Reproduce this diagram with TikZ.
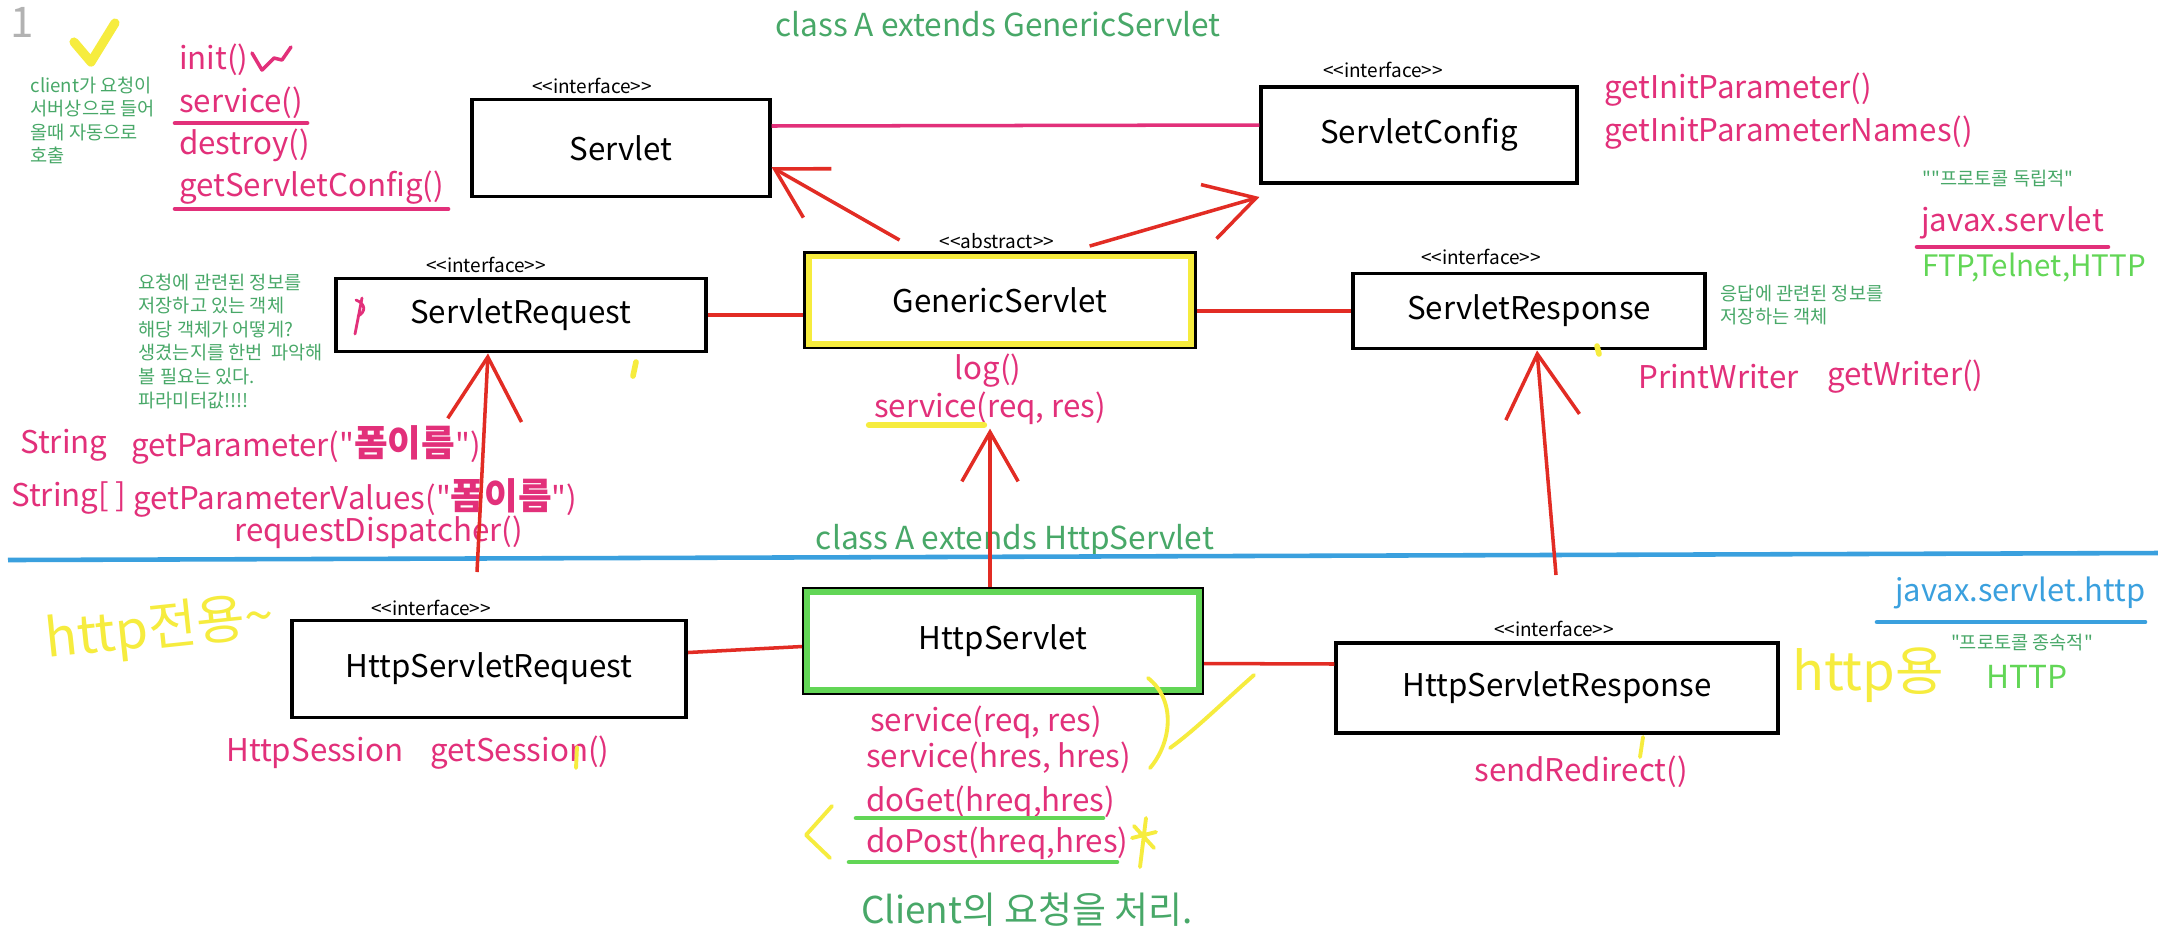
\documentclass[tikz,border=0pt]{standalone}
\usepackage{fontspec}
\setmainfont{Noto Sans CJK KR}
\usepackage{xcolor}
\usepackage{tikz}
\usetikzlibrary{arrows.meta,positioning,calc}

\definecolor{mpink}{RGB}{226,48,122}
\definecolor{ngreen}{RGB}{72,168,104}
\definecolor{bgreen}{RGB}{98,214,86}
\definecolor{lblue}{RGB}{58,160,222}
\definecolor{lred}{RGB}{226,44,36}
\definecolor{ylw}{RGB}{246,236,62}

\begin{document}
\begin{tikzpicture}[
  x=0.01cm, y=-0.01cm,
  cls/.style   ={draw,line width=1.1pt,fill=white,inner sep=0pt,
                 font=\fontsize{8.9}{10}\selectfont},
  stereo/.style={font=\fontsize{5.4}{6.5}\selectfont,inner sep=1pt},
  meth/.style  ={text=mpink,font=\fontsize{8.9}{10}\selectfont,inner sep=1pt},
  note/.style  ={text=ngreen,font=\fontsize{5.3}{6.7}\selectfont,align=left,inner sep=0pt},
  head/.style  ={text=ngreen,font=\fontsize{9}{11}\selectfont,inner sep=1pt},
  hand/.style  ={text=ylw,font=\fontsize{15}{16}\selectfont,inner sep=0pt},
  rel/.style   ={draw=lred,line width=1pt},
  uline/.style ={line width=1.3pt,line cap=round},
  scrib/.style ={draw=ylw,line width=1.1pt,line cap=round,line join=round},
  >={Straight Barb[length=14pt,width=16pt]}]

\useasboundingbox (0,0) rectangle (2158,944);
\fill[white] (0,0) rectangle (2158,944);

% ---------- top left : Servlet methods ----------
\node[text=gray!60,font=\fontsize{12}{13}\selectfont] (pg) at (22,22) {1};
\draw[scrib,line width=2.6pt] (74,42) -- (91,62) -- (115,23);
\node[note,anchor=north west] (cnote) at (30,76) {client가 요청이\\서버상으로 들어\\올때 자동으로\\호출};

\node[meth,anchor=west] (init) at (175,60)  {init()};
\node[meth,anchor=west] (svc)  at (175,103) {service()};
\node[meth,anchor=west] (dst)  at (175,145) {destroy()};
\node[meth,anchor=west] (gsc)  at (175,188) {getServletConfig()};
\draw[mpink,line width=1pt,line cap=round,line join=round]
  (252,53) -- (262,70) -- (274,58) -- (282,60) -- (291,47);
\draw[mpink,uline] (svc.south west) -- (svc.south east);
\draw[mpink,uline] (gsc.south west) -- (gsc.south east);

% ---------- Row 1 : Servlet / ServletConfig ----------
\node[head] (hd1) at (998,24) {class A extends GenericServlet};

\node[cls,minimum width=2.97cm,minimum height=0.97cm] (srv) at (621,148) {Servlet};
\node[stereo] (srvst) at (592,86) {{<}{<}interface{>}{>}};
\node[cls,minimum width=3.15cm,minimum height=0.96cm] (cfg) at (1419,135) {ServletConfig};
\node[stereo] (cfgst) at (1383,70) {{<}{<}interface{>}{>}};
\draw[mpink,line width=1pt] ([yshift=0.22cm]srv.east) -- ([yshift=0.1cm]cfg.west);

\node[meth,anchor=west] (gip)  at (1600,90)  {getInitParameter()};
\node[meth,anchor=west] (gipn) at (1600,133) {getInitParameterNames()};

\node[note] (indep) at (1998,179) {\textquotedbl\textquotedbl 프로토콜 독립적\textquotedbl};
\node[meth,anchor=west] (jxs) at (1917,223) {javax.servlet};
\draw[mpink,uline] ([yshift=-1pt]jxs.south west) -- ([yshift=-1pt]jxs.south east);
\node[text=bgreen,font=\fontsize{8.4}{10}\selectfont,anchor=west] (proto) at (1910,268) {FTP,Telnet,HTTP};

% ---------- Row 2 : GenericServlet ----------
\node[cls,minimum width=3.89cm,minimum height=0.94cm] (gen) at (1000,300) {GenericServlet};
\draw[ylw,line width=1.6pt] ([shift={(1.5pt,-1.5pt)}]gen.north west) rectangle ([shift={(-1.5pt,1.5pt)}]gen.south east);
\node[stereo] (genst) at (997,241) {{<}{<}abstract{>}{>}};

\node[cls,minimum width=3.69cm,minimum height=0.73cm] (req) at (521,315) {ServletRequest};
\node[stereo] (reqst) at (486,265) {{<}{<}interface{>}{>}};
\node[cls,minimum width=3.52cm,minimum height=0.75cm] (res) at (1529,311) {ServletResponse};
\node[stereo] (resst) at (1481,257) {{<}{<}interface{>}{>}};

\draw[rel] (req.east) -- (req.east -| gen.west);
\draw[rel] (gen.east |- res.west) -- (res.west);
\draw[rel,->] ([xshift=0.96cm,yshift=0.11cm]gen.north west) -- ([yshift=-0.19cm]srv.east);
\draw[rel,->] ([xshift=2.86cm,yshift=0.05cm]gen.north west) -- ([yshift=-0.12cm]cfg.south west);

\node[note,anchor=north west] (reqnote) at (138,273)
  {요청에 관련된 정보를\\저장하고 있는 객체\\해당 객체가 어떻게?\\생겼는지를 한번\ \ 파악해\\볼 필요는 있다.\\파라미터값!!!!};
\node[note,anchor=north west] (resnote) at (1720,284) {응답에 관련된 정보를\\저장하는 객체};

\node[meth] (log)  at (988,371) {log()};
\node[meth] (gsvc) at (990,408) {service(req, res)};
\draw[ylw,line width=1.8pt,line cap=round] (869,425) -- (984,425);

\node[meth,anchor=west] (pw) at (1634,377) {PrintWriter};
\node[meth,anchor=west] (gw) at (1823,377) {getWriter()};

\node[meth,anchor=west] (strt)  at (16,445)  {String};
\node[meth,anchor=west] (gp)    at (127,445) {getParameter(\textquotedbl{\fontsize{10.4}{12}\selectfont\bfseries 폼이름}\textquotedbl)};
\node[meth,anchor=west] (strat) at (7,498)   {String[ ]};
\node[meth,anchor=west] (gpv)   at (129,498) {getParameterValues(\textquotedbl{\fontsize{10.4}{12}\selectfont\bfseries 폼이름}\textquotedbl)};
\node[meth,anchor=west] (rdisp) at (230,532) {requestDispatcher()};

% small marks
\draw[mpink,line width=0.8pt,line cap=round] (362,298) -- (355,334) (356,300) .. controls (366,304) and (366,312) .. (358,316);
\draw[scrib,line width=1.6pt] (636,362) -- (633,376);
\draw[scrib,line width=1.6pt] (1597,346) -- (1599,354);

% ---------- separator ----------
\node[head] (hd2) at (1015,541) {class A extends HttpServlet};
\draw[lblue,line width=1.3pt] (8,560) -- (2158,553);

% ---------- Row 3 : HttpServlet ----------
\node[cls,minimum width=3.94cm,minimum height=0.97cm] (hreq) at (489,669) {HttpServletRequest};
\node[stereo] (hreqst) at (431,608) {{<}{<}interface{>}{>}};
\node[cls,minimum width=3.98cm,minimum height=1.05cm] (hsrv) at (1003,641) {HttpServlet};
\draw[bgreen,line width=1.6pt] ([shift={(1.5pt,-1.5pt)}]hsrv.north west) rectangle ([shift={(-1.5pt,1.5pt)}]hsrv.south east);
\node[cls,minimum width=4.41cm,minimum height=0.9cm] (hres) at (1557,688) {HttpServletResponse};
\node[stereo] (hresst) at (1554,629) {{<}{<}interface{>}{>}};

\draw[rel] ([yshift=0.165cm]hreq.east) -- ([yshift=-0.055cm]hsrv.west);
\draw[rel] ([yshift=-0.225cm]hsrv.east) -- ([yshift=0.24cm]hres.west);

\coordinate (reqtail) at (477,572);
\coordinate (restail) at (1556,575);
\draw[rel,-{Straight Barb[length=18pt,width=21pt]}] (reqtail) -- ([xshift=-0.33cm]req.south);
\draw[rel,-{Straight Barb[length=18pt,width=21pt]}] (restail) -- ([xshift=0.08cm]res.south);
\draw[rel,->] (hsrv.north -| gsvc.south) -- (gsvc.south);

\node[meth,anchor=west] (hses) at (222,753) {HttpSession};
\node[meth,anchor=west] (gses) at (426,753) {getSession()};

\node[meth,anchor=west] (hs1)   at (866,722) {service(req, res)};
\node[meth,anchor=west] (hs2)   at (862,758) {service(hres, hres)};
\node[meth,anchor=west] (dget)  at (862,802) {doGet(hreq,hres)};
\node[meth,anchor=west] (dpost) at (862,843) {doPost(hreq,hres)};
\draw[bgreen,uline] (856,818) -- (1103,818);
\draw[bgreen,uline] (849,862) -- (1117,862);

\node[text=ngreen,font=\fontsize{10.5}{12}\selectfont] (cnote2) at (1027,910) {Client의 요청을 처리.};

\node[meth] (sred) at (1581,772) {sendRedirect()};

\node[text=lblue,font=\fontsize{8.8}{10}\selectfont,anchor=west] (jxsh) at (1883,593) {javax.servlet.http};
\draw[lblue,uline] (1877,622) -- (2145,622);
\node[note] (dep) at (2022,642) {\textquotedbl 프로토콜 종속적\textquotedbl};
\node[text=bgreen,font=\fontsize{9}{10}\selectfont] (http) at (2027,677) {HTTP};

% ---------- yellow scribbles ----------
\node[hand,rotate=6] (hscr1) at (160,630) {http전용\textasciitilde};
\node[hand] (hscr2) at (1868,675) {http용};
\draw[scrib] (1148,678) .. controls (1176,700) and (1172,742) .. (1150,768);
\draw[scrib] (1170,748) .. controls (1195,730) and (1220,705) .. (1254,675);
\draw[scrib] (832,806) -- (806,835) -- (830,858);
\draw[scrib] (1140,867) -- (1146,818) (1132,838) -- (1156,832) (1134,826) -- (1154,848);
\draw[scrib] (577,747) -- (576,768);
\draw[scrib] (1643,737) -- (1640,757);

\end{tikzpicture}
\end{document}
